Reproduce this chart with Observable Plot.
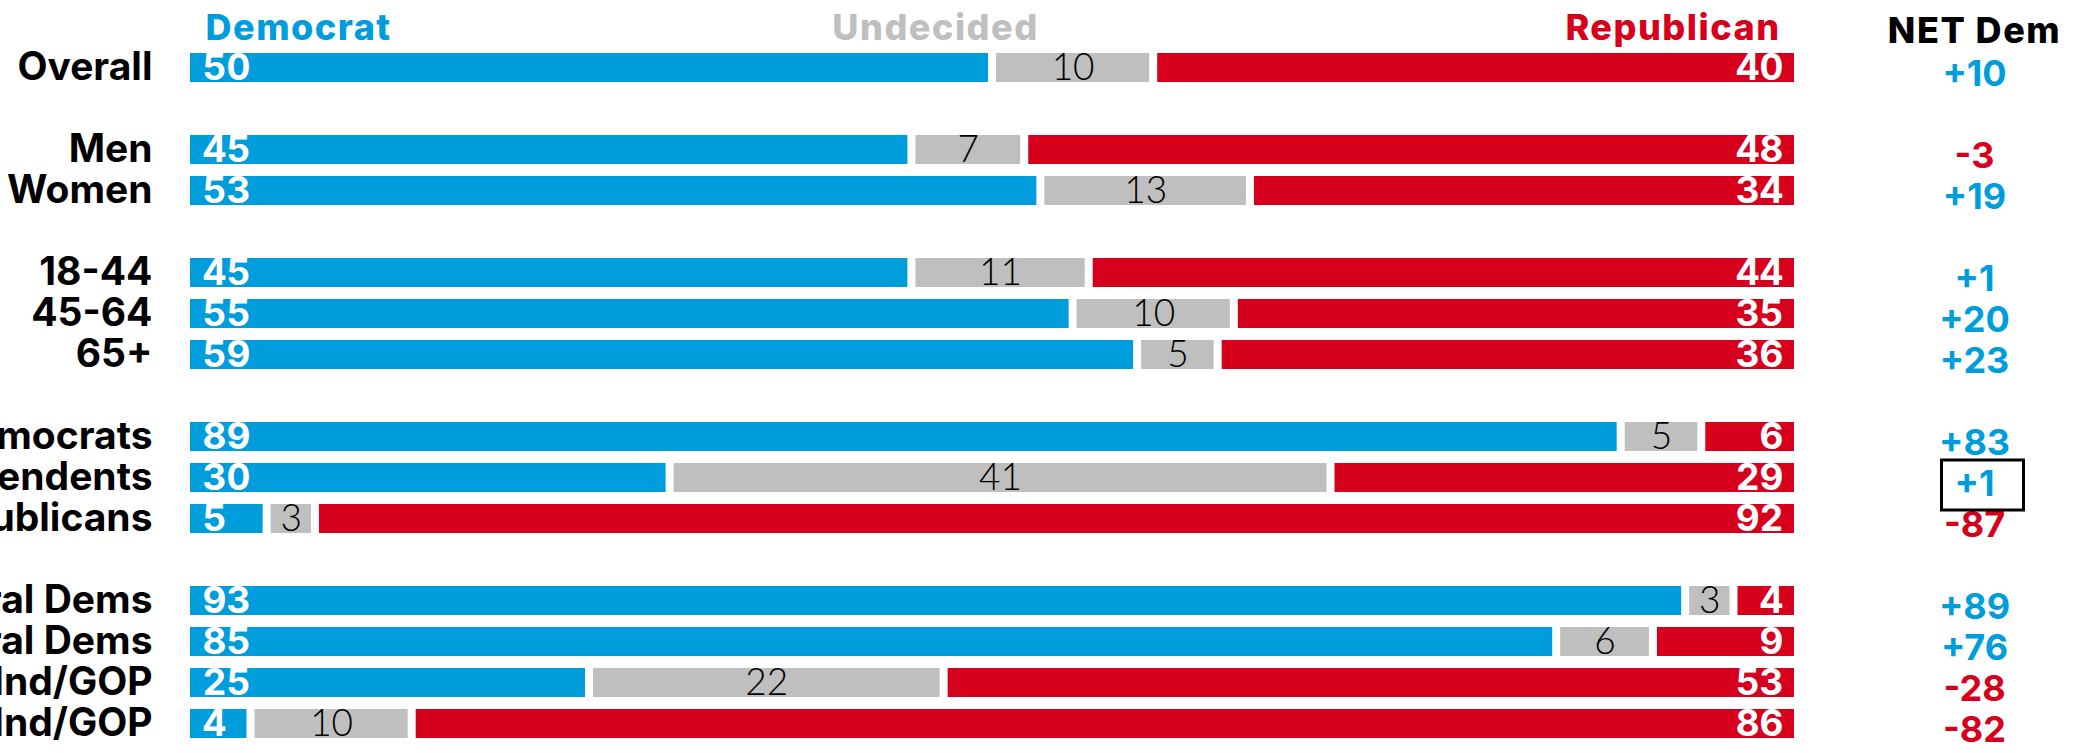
<!DOCTYPE html>
<html>
<head>
<meta charset="utf-8">
<script src="https://cdn.jsdelivr.net/npm/d3@7"></script>
<script src="https://cdn.jsdelivr.net/npm/@observablehq/plot@0.6"></script>
<style>
  html, body { margin: 0; padding: 0; background: #fff; }
  svg { display: block; }
  .hdr text { letter-spacing: 1.5px; }
  .und text { font-family: Lato, Roboto, sans-serif; }
</style>
</head>
<body>
<div id="chart"></div>
<script>
// ---- data ----
const groups = [
  ["Overall"],
  ["Men", "Women"],
  ["18-44", "45-64", "65+"],
  ["Democrats", "Independents", "Republicans"],
  ["Liberal Dems", "Non-Liberal Dems", "Liberal Ind/GOP", "Non-Liberal Ind/GOP"]
];
const categories = groups.flat();
const demValues = [50, 45, 53, 45, 55, 59, 89, 30, 5, 93, 85, 25, 4];
const undValues = [10, 7, 13, 11, 10, 5, 5, 41, 3, 3, 6, 22, 10];
const repValues = [40, 48, 34, 44, 35, 36, 6, 29, 92, 4, 9, 53, 86];
const netDem    = [10, -3, 19, 1, 20, 23, 83, 1, -87, 89, 76, -28, -82];
const parties = ["Democrat", "Undecided", "Republican"];
const highlighted = ["Independents"];

const BLUE = "#009ddc", GRAY = "#bfbfbf", RED = "#d6001c";

// y domain with spacer rows between groups
const yDomain = [];
groups.forEach((g, i) => { if (i > 0) yDomain.push("gap" + i); yDomain.push(...g); });

const rows = categories.map((c, i) => ({
  category: c, dem: demValues[i], und: undValues[i], rep: repValues[i], net: netDem[i]
}));
const long = rows.flatMap(r => [
  {category: r.category, party: "Democrat", value: r.dem},
  {category: r.category, party: "Undecided", value: r.und},
  {category: r.category, party: "Republican", value: r.rep}
]);
const headerRows = parties.map(p => ({party: p}));

const FONT = "Inter, 'Open Sans', sans-serif";

const chart = Plot.plot({
  width: 2095,
  height: 753,
  marginLeft: 186,
  marginRight: 297,
  marginTop: 47.5,
  marginBottom: 8.5,
  style: {fontFamily: FONT, background: "white", overflow: "hidden"},
  x: {domain: [0, 100], axis: null},
  y: {domain: yDomain, axis: null, paddingInner: 0.29, paddingOuter: 0.145},
  color: {domain: parties, range: [BLUE, GRAY, RED]},
  marks: [
    Plot.barX(long, Plot.stackX({
      x: "value", y: "category", fill: "party", order: parties,
      insetLeft: 4, insetRight: 4
    })),
    // category labels
    Plot.text(rows, {
      y: "category", text: "category", frameAnchor: "left", textAnchor: "end",
      dx: -34, fontSize: 39, fontWeight: 700, fill: "black"
    }),
    // democrat values
    Plot.text(rows, {
      y: "category", text: "dem", frameAnchor: "left", textAnchor: "start",
      dx: 16, fontSize: 37, fontWeight: 700, fill: "white"
    }),
    // undecided values
    Plot.text(rows, {
      y: "category", x: d => d.dem + d.und / 2, text: "und", textAnchor: "middle",
      fontSize: 37, fontWeight: 300, fill: "black", className: "und"
    }),
    // republican values
    Plot.text(rows, {
      y: "category", text: "rep", frameAnchor: "right", textAnchor: "end",
      dx: -15, fontSize: 37, fontWeight: 700, fill: "white"
    }),
    // net dem values
    Plot.text(rows, {
      y: "category", text: d => (d.net > 0 ? "+" : "") + d.net,
      frameAnchor: "right", textAnchor: "middle", dx: 176, dy: 6,
      fontSize: 36, fontWeight: 700, fill: d => d.net >= 0 ? BLUE : RED
    }),
    // highlight box
    Plot.dot(rows.filter(d => highlighted.includes(d.category)), {
      y: "category", frameAnchor: "right", dx: 184, dy: 7,
      symbol: {draw(ctx) { ctx.rect(-41, -25, 82, 50); }},
      stroke: "black", strokeWidth: 3, fill: "none"
    }),
    // headers
    Plot.text(headerRows.filter(d => d.party === "Democrat"), {
      text: "party", frameAnchor: "top-left", textAnchor: "start", lineAnchor: "bottom",
      dx: 19, dy: -8.5, fontSize: 36, fontWeight: 800, fill: BLUE, className: "hdr"
    }),
    Plot.text(headerRows.filter(d => d.party === "Undecided"), {
      text: "party", frameAnchor: "top-left", textAnchor: "middle", lineAnchor: "bottom",
      dx: 749, dy: -8.5, fontSize: 36, fontWeight: 800, fill: GRAY, className: "hdr"
    }),
    Plot.text(headerRows.filter(d => d.party === "Republican"), {
      text: "party", frameAnchor: "top-right", textAnchor: "end", lineAnchor: "bottom",
      dx: -18, dy: -8.5, fontSize: 36, fontWeight: 800, fill: RED, className: "hdr"
    }),
    Plot.text(["NET Dem"], {
      text: d => d, frameAnchor: "top-right", textAnchor: "middle", lineAnchor: "bottom",
      dx: 176, dy: -5.5, fontSize: 36, fontWeight: 800, fill: "black", className: "hdr"
    })
  ]
});
document.getElementById("chart").appendChild(chart);
</script>
</body>
</html>
